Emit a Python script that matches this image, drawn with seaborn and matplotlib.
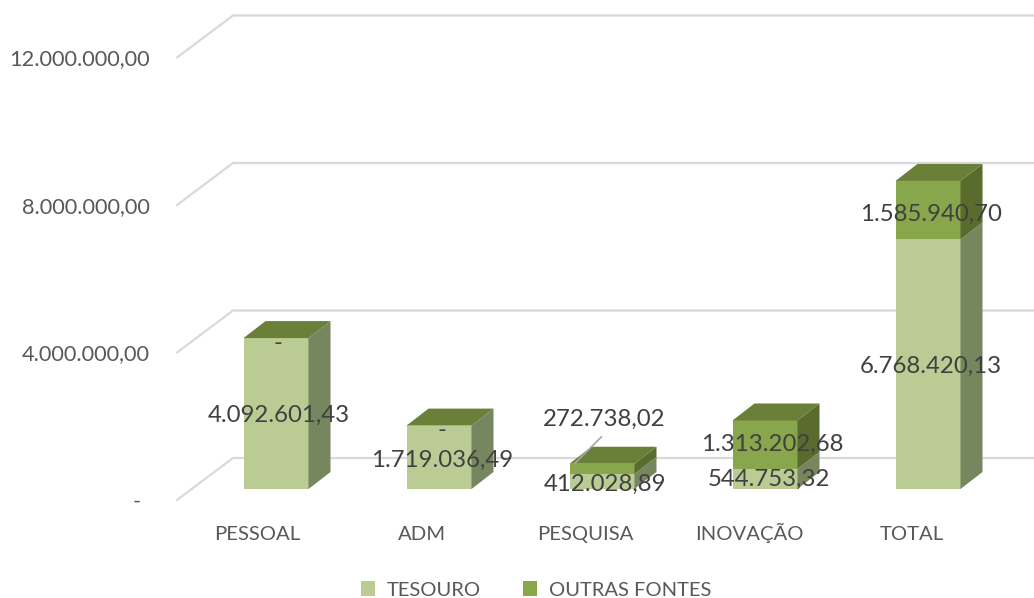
import numpy as np
import matplotlib
matplotlib.use("Agg")
import matplotlib.pyplot as plt
from matplotlib.patches import Polygon, Patch
import seaborn as sns

categories = ["PESSOAL", "ADM", "PESQUISA", "INOVAÇÃO", "TOTAL"]
tesouro = [4092601.43, 1719036.49, 412028.89, 544753.32, 6768420.13]
outras = [0.0, 0.0, 272738.02, 1313202.68, 1585940.70]
tesouro_labels = ["4.092.601,43", "1.719.036,49", "412.028,89", "544.753,32", "6.768.420,13"]
outras_labels = ["-", "-", "272.738,02", "1.313.202,68", "1.585.940,70"]
y_ticks = [0, 4000000, 8000000, 12000000]
y_tick_labels = ["-", "4.000.000,00", "8.000.000,00", "12.000.000,00"]

W, H = 1034, 598
sns.set_theme(style="white")
plt.rcParams["font.family"] = ["Lato", "DejaVu Sans"]
TXT = "#404040"; AX = "#595959"; GRID = "#D9D9D9"
C_T, C_TS = "#BACC94", "#76865E"
C_O, C_OS, C_OT = "#88A64C", "#5A6B2E", "#6A7F37"

fig = plt.figure(figsize=(W / 100, H / 100), dpi=100)
L, R, B, T = 194.5, 1009.5, 489.0, 46.5
ax = fig.add_axes([L / W, 1 - B / H, (R - L) / W, (B - T) / H])
ax.patch.set_alpha(0)
PX = 1 / 163.0            # category units per pixel
PY = 4000000 / 147.5      # value units per pixel

# walls and value labels
for v, lab in zip(y_ticks, y_tick_labels):
    x0 = -0.5 - 17.5 * PX; y0 = v - 11 * PY
    x1 = -0.5 + 38.5 * PX; y1 = v + 31 * PY
    ax.plot([x0, x1, 4.5 + 30 * PX], [y0, y1, y1], color=GRID, lw=1.6,
            clip_on=False, zorder=0, solid_joinstyle="miter")
    ax.annotate(lab, xy=(x0, y0), xytext=(-27 if v else -36, 0),
                textcoords="offset pixels", ha="right", va="center_baseline",
                fontsize=15.7, color=AX, annotation_clip=False)

# front faces
width = 65 / 163
sns.barplot(x=categories, y=tesouro, color=C_T, saturation=1, width=width, ax=ax, zorder=2, linewidth=0)
sns.barplot(x=categories, y=outras, bottom=tesouro, color=C_O, saturation=1, width=width, ax=ax, zorder=2, linewidth=0)

# depth faces
dx, dy = 22 * PX, 17 * PY
for i, (a, b) in enumerate(zip(tesouro, outras)):
    xr = i + width / 2; xl = i - width / 2
    ax.add_patch(Polygon([(xr, 0), (xr + dx, dy), (xr + dx, a + dy), (xr, a)], fc=C_TS, ec="none", zorder=2))
    if b > 0:
        ax.add_patch(Polygon([(xr, a), (xr + dx, a + dy), (xr + dx, a + b + dy), (xr, a + b)], fc=C_OS, ec="none", zorder=2))
    top = a + b
    ax.add_patch(Polygon([(xl, top), (xr, top), (xr + dx, top + dy), (xl + dx, top + dy)], fc=C_OT, ec="none", zorder=2))

ax.set_xlim(-0.5, 4.5)
ax.set_ylim(0, 12000000)
ax.set_yticks([])
ax.set_xticks([])
ax.set_xlabel(""); ax.set_ylabel("")
sns.despine(ax=ax, left=True, bottom=True)

# category labels on the front plane
cat_dx = [-19, -17, -17, -16, -16]
for i, c in enumerate(categories):
    ax.annotate(c, xy=(i, 0), xytext=(cat_dx[i], -51), textcoords="offset pixels", ha="center",
                va="baseline", fontsize=14.6, color=AX, annotation_clip=False)

# data labels
LBL = 17.3
t_off = [(3, 0), (3, -1), (3, -1), (4, 2), (3, 0)]
o_off = [(2, -3), (3, -3), None, (7, 2), (3, -2)]
for i, (a, b) in enumerate(zip(tesouro, outras)):
    ax.annotate(tesouro_labels[i], xy=(i, a / 2), xytext=t_off[i], textcoords="offset pixels",
                ha="center", va="center_baseline", fontsize=LBL, color=TXT, zorder=5)
    if i == 2:
        x_s = i - width / 2 + 5 * PX; y_s = a + b
        ax.plot([x_s, x_s + 27 * PX], [y_s, y_s + 27 * PY], color="#A6A6A6", lw=1.2, zorder=4)
        ax.annotate(outras_labels[i], xy=(x_s, y_s), xytext=(30, 46),
                    textcoords="offset pixels", ha="center", va="center_baseline", fontsize=LBL, color=TXT, zorder=5)
    else:
        ax.annotate(outras_labels[i], xy=(i, a + b / 2), xytext=o_off[i],
                    textcoords="offset pixels", ha="center", va="center_baseline", fontsize=LBL, color=TXT, zorder=5)

fig.legend(handles=[Patch(color=C_T, lw=0, label="TESOURO"), Patch(color=C_O, lw=0, label="OUTRAS FONTES")],
           loc="center", bbox_to_anchor=(536 / W, 1 - 590 / H), ncol=2, frameon=False, fontsize=14.5,
           labelcolor=AX, handlelength=0.7, handleheight=0.7, handletextpad=0.6, columnspacing=2.09)
fig.savefig("out.png", dpi=100)
